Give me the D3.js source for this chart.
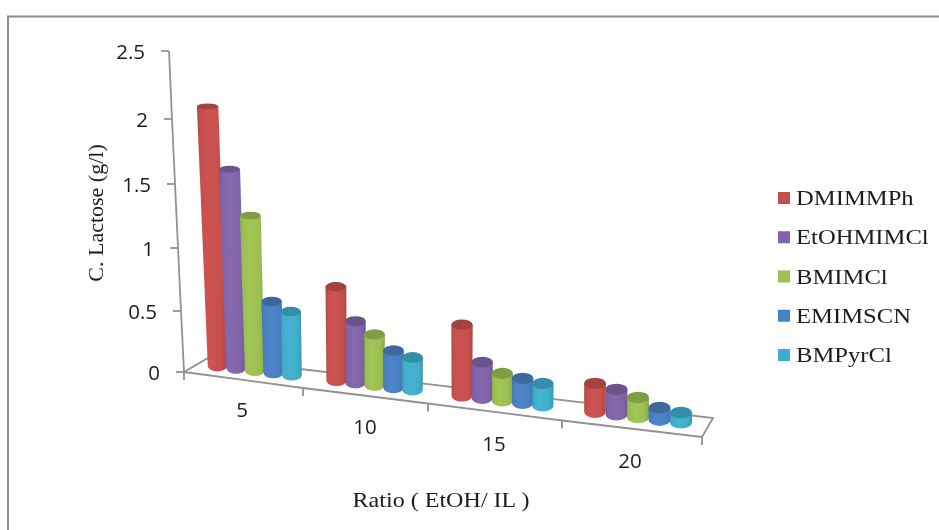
<!DOCTYPE html>
<html><head><meta charset="utf-8">
<script src="https://cdn.jsdelivr.net/npm/d3@7/dist/d3.min.js"></script>
<style>html,body{margin:0;padding:0;background:#fff;overflow:hidden}svg{display:block}</style>
</head><body><svg id="c" width="939" height="530"></svg>
<script>
const categories = ["5","10","15","20"];
const seriesNames = ["DMIMMPh","EtOHMIMCl","BMIMCl","EMIMSCN","BMPyrCl"];
const seriesColors = ["#C6504D","#8064A8","#9BBF52","#4A80C2","#42ADCB"];
const DMIMMPh   = [2.04,0.745,0.56,0.223];
const EtOHMIMCl = [1.575,0.494,0.285,0.196];
const BMIMCl    = [1.23,0.406,0.215,0.153];
const EMIMSCN   = [0.575,0.295,0.195,0.094];
const BMPyrCl   = [0.512,0.257,0.174,0.076];
const seriesValues = [DMIMMPh,EtOHMIMCl,BMIMCl,EMIMSCN,BMPyrCl];
const valueTicks = [0,0.5,1,1.5,2,2.5];
const tickLabels = ["0","0.5","1","1.5","2","2.5"];

const svg = d3.select("#c");
const defs = svg.append("defs");
defs.append("filter").attr("id","soft").append("feGaussianBlur").attr("stdDeviation",0.5);
const gridColor = "#929292", textColor = "#1c1c1c";
const sans = "'Open Sans',sans-serif", serif = "'Liberation Serif',serif";

// frame
svg.append("path").attr("d","M8,530V16.5H939").attr("fill","none").attr("stroke","#8a8a8a").attr("stroke-width",2);

// perspective scales
const axisHeight = d3.scaleLinear().domain(valueTicks).range([0,61,124,188,253,321]);
const axisX = d3.scaleLinear().domain([0,2.5]).range([184,169]);
const axisBase = 372;
const edge = [0,1,2,3,4];
const frontX = d3.scaleLinear().domain(edge).range([184,303,428,562,702]);
const frontY = d3.scaleLinear().domain(edge).range([372,388,403.5,420.5,437]);
const firstBar = d3.scaleLinear().domain([0,1,2,3]).range([217.5,336.5,462,595]);
const barStep = d3.scaleLinear().domain([0,1,2,3]).range([18.6,19,20.2,21.5]);
const baseY = d3.scaleLinear().domain([217.5,681]).range([366,422.5]);
const persp = d3.scaleLinear().domain([184,702]).range([1,1.07]);
const lean = d3.scaleLinear().domain([184,360]).range([0.047,0]).clamp(true);
const ry = d3.scaleLinear().domain([100,400]).range([2.8,5.8]);
const rx = d3.scaleLinear().domain([217.5,681]).range([9.7,11]);

const marks = svg.append("g").attr("filter","url(#soft)");

// floor
const floor = marks.append("g").attr("fill","none").attr("stroke",gridColor).attr("stroke-width",1.8);
const line = d3.line();
floor.append("path").attr("d",line([[184,372],[208,358],[713,418],[702,437]]));
floor.append("path").attr("d",line(edge.map(i=>[frontX(i),frontY(i)])));
floor.selectAll(".xt").data(edge).join("path").attr("class","xt")
  .attr("d",i=>line([[frontX(i),frontY(i)],[frontX(i),frontY(i)+8]]));
// value axis
floor.append("path").attr("d",line(valueTicks.map(v=>[axisX(v),axisBase-axisHeight(v)])));
floor.selectAll(".yt").data(valueTicks).join("path").attr("class","yt")
  .attr("d",v=>line([[axisX(v)-8,axisBase-axisHeight(v)],[axisX(v),axisBase-axisHeight(v)]]));

// gradients
seriesColors.forEach((c,i)=>{
  const g = defs.append("linearGradient").attr("id","g"+i);
  const stops = [[0,d3.color(c).darker(0.3)],[0.12,d3.color(c)],[0.4,d3.color(c).brighter(0.1)],[0.8,d3.color(c)],[1,d3.color(c).darker(0.35)]];
  stops.forEach(s=>g.append("stop").attr("offset",s[0]).attr("stop-color",s[1]));
});

// cylinders
categories.forEach((cat,ci)=>{
  seriesNames.forEach((name,si)=>{
    const v = seriesValues[si][ci];
    const xb = firstBar(ci)+si*barStep(ci);
    const yb = baseY(xb);
    const h = axisHeight(v)*persp(xb);
    const yt = yb-h;
    const xt = xb-lean(xb)*h;
    const rb = rx(xb), rt = rb*(1+h*0.0004);
    const ryb = ry(yb), ryt = ry(yt);
    marks.append("path")
      .attr("d",`M${xb-rb},${yb}A${rb},${ryb} 0 0 0 ${xb+rb},${yb}L${xt+rt},${yt}L${xt-rt},${yt}Z`)
      .attr("fill",`url(#g${si})`);
    marks.append("ellipse").attr("cx",xt).attr("cy",yt).attr("rx",rt).attr("ry",ryt)
      .attr("fill",d3.color(seriesColors[si]).darker(0.55));
  });
});

// text
const txt = svg.append("g").attr("filter","url(#soft)").attr("fill",textColor);
txt.selectAll(".yl").data(valueTicks).join("text").attr("class","yl")
  .attr("x",v=>axisX(v)-24).attr("y",v=>axisBase-axisHeight(v)+8)
  .attr("text-anchor","end").attr("font-family",sans).attr("font-size",20.5)
  .text((v,i)=>tickLabels[i]);
const catLabelX = d3.scaleLinear().domain([0,1,2,3]).range([242,365,494,630]);
const catLabelY = d3.scaleLinear().domain([0,1,2,3]).range([417,434,451,468]);
txt.selectAll(".cl").data(categories).join("text").attr("class","cl")
  .attr("x",(d,i)=>catLabelX(i)).attr("y",(d,i)=>catLabelY(i))
  .attr("text-anchor","middle").attr("font-family",sans).attr("font-size",20.5).text(d=>d);
txt.append("text").attr("transform","translate(103,213) rotate(-90)").attr("text-anchor","middle")
  .attr("font-family",serif).attr("font-size",22).text("C. Lactose (g/l)");
txt.append("text").attr("transform","translate(441,507) scale(1.12,1)").attr("text-anchor","middle")
  .attr("font-family",serif).attr("font-size",21.5).text("Ratio ( EtOH/ IL )");

const legendY = d3.scalePoint().domain(seriesNames).range([198,355]);
const leg = svg.append("g").attr("filter","url(#soft)");
leg.selectAll("rect").data(seriesNames).join("rect")
  .attr("x",778).attr("y",d=>legendY(d)-6).attr("width",12).attr("height",12)
  .attr("fill",(d,i)=>seriesColors[i]);
leg.selectAll("text").data(seriesNames).join("text")
  .attr("transform",d=>`translate(796,${legendY(d)+7}) scale(1.12,1)`)
  .attr("font-family",serif).attr("font-size",22).attr("fill",textColor)
  .text(d=>d);
</script></body></html>
